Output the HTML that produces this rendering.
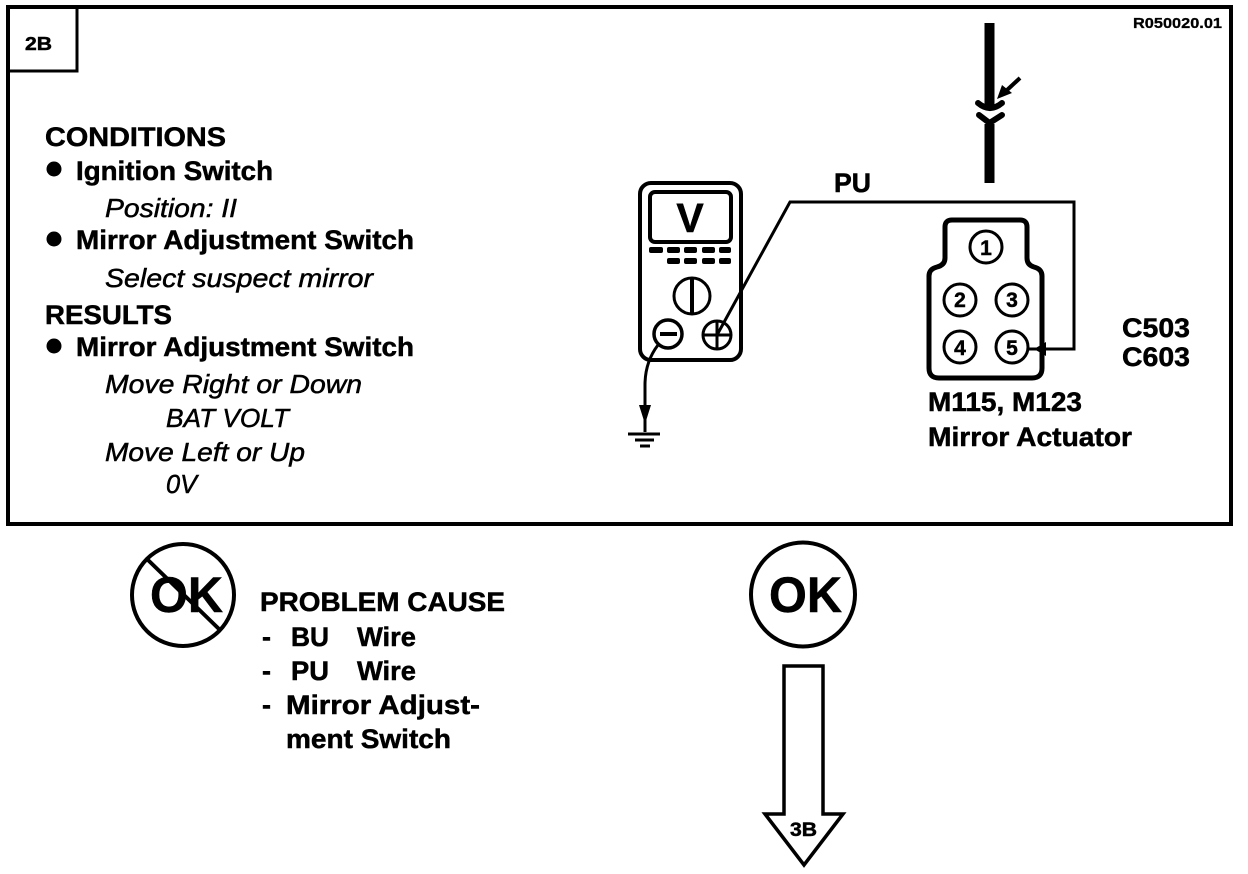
<!DOCTYPE html>
<html><head><meta charset="utf-8"><style>
html,body{margin:0;padding:0;background:#fff}
svg{display:block}
text{font-family:"Liberation Sans",sans-serif;fill:#000;stroke:#000}
.b{font-weight:bold;font-size:27px;stroke-width:.5px}
.i{font-style:italic;font-size:26px;stroke-width:.5px}
</style></head><body>
<svg width="1248" height="874" viewBox="0 0 1248 874" xmlns="http://www.w3.org/2000/svg">
<rect width="1248" height="874" fill="#fff"/>
<g fill="none" stroke="#000">
<rect x="8" y="7" width="1223" height="517" stroke-width="4"/>
<path d="M8 71H77V7" stroke-width="3"/>
<!-- top wire and connector -->
<path d="M989.5 23V108" stroke-width="10"/>
<path d="M989.5 124V183" stroke-width="10"/>
<path d="M978 103Q990 113 1002 103" stroke-width="6" stroke-linecap="round"/>
<path d="M979 115L989.5 123L1002 115" stroke-width="6" stroke-linecap="round"/>
<path d="M1020 78L1006 91" stroke-width="4"/>
<!-- connector body -->
<path d="M952 220H1020Q1027 220 1027 227V258Q1027 265 1034 267Q1042 269 1042 276V368Q1042 378 1032 378H939Q929 378 929 368V276Q929 269 937 267Q945 265 945 258V227Q945 220 952 220Z" stroke-width="5"/>
<g stroke-width="3">
<circle cx="986" cy="247" r="16"/><circle cx="960" cy="300" r="16"/><circle cx="1012" cy="300" r="16"/><circle cx="960" cy="347" r="16"/><circle cx="1012" cy="347" r="16"/>
</g>
<!-- PU wire -->
<path d="M717 335L790 202H1074V349H1028" stroke-width="3"/>
<!-- meter -->
<rect x="640" y="183" width="101" height="177" rx="11" stroke-width="4"/>
<rect x="650" y="192" width="81" height="50" rx="5" stroke-width="4"/>
<circle cx="692" cy="296" r="18" stroke-width="3"/>
<path d="M692 279V313" stroke-width="4"/>
<circle cx="668" cy="334" r="14" stroke-width="3.5"/>
<path d="M660 334H677" stroke-width="4"/>
<circle cx="717" cy="335" r="14" stroke-width="3"/>
<path d="M703 335H731M717 321V349" stroke-width="3"/>
<path d="M658 345Q645 362 645 385V432" stroke-width="3"/>
<path d="M628 434H660" stroke-width="3"/>
<path d="M635 440H654" stroke-width="3"/>
<path d="M640 446H650" stroke-width="3"/>
<!-- circles -->
<circle cx="183" cy="595" r="51" stroke-width="4"/>
<path d="M148 560L220 630" stroke-width="4"/>
<circle cx="803" cy="594.5" r="52" stroke-width="4"/>
<!-- arrow -->
<path d="M784 666H823V814H843L804 865L765 814H784Z" stroke-width="3.5"/>
</g>
<g fill="#000">
<path d="M997 99L1002 85L1012 93Z"/>
<path d="M1034 349L1046 342V356Z"/>
<path d="M639 405H651L645 424Z"/>
<circle cx="54" cy="169" r="7.5"/><circle cx="54" cy="239" r="7.5"/><circle cx="54" cy="346" r="7.5"/>
<rect x="649" y="247" width="14" height="6" rx="2"/><rect x="667" y="247" width="13" height="6" rx="2"/><rect x="684" y="247" width="13" height="6" rx="2"/><rect x="702" y="247" width="13" height="6" rx="2"/><rect x="719" y="247" width="12" height="6" rx="2"/>
<rect x="667" y="258" width="13" height="6" rx="2"/><rect x="684" y="258" width="13" height="6" rx="2"/><rect x="702" y="258" width="13" height="6" rx="2"/><rect x="719" y="258" width="12" height="6" rx="2"/>
</g>
<text x="25" y="50" class="b" style="font-size:18px" textLength="27" lengthAdjust="spacingAndGlyphs">2B</text>
<text x="1133" y="28" class="b" style="font-size:15px;stroke-width:.3px" textLength="89" lengthAdjust="spacingAndGlyphs">R050020.01</text>
<text x="45" y="146" class="b" textLength="181" lengthAdjust="spacingAndGlyphs">CONDITIONS</text>
<text x="76" y="180" class="b" textLength="197" lengthAdjust="spacingAndGlyphs">Ignition Switch</text>
<text x="105" y="217" class="i" textLength="132" lengthAdjust="spacingAndGlyphs">Position: II</text>
<text x="76" y="249" class="b" textLength="338" lengthAdjust="spacingAndGlyphs">Mirror Adjustment Switch</text>
<text x="105" y="287" class="i" textLength="268" lengthAdjust="spacingAndGlyphs">Select suspect mirror</text>
<text x="45" y="324" class="b" textLength="127" lengthAdjust="spacingAndGlyphs">RESULTS</text>
<text x="76" y="356" class="b" textLength="338" lengthAdjust="spacingAndGlyphs">Mirror Adjustment Switch</text>
<text x="105" y="393" class="i" textLength="257" lengthAdjust="spacingAndGlyphs">Move Right or Down</text>
<text x="166" y="427" class="i" textLength="123" lengthAdjust="spacingAndGlyphs">BAT VOLT</text>
<text x="105" y="461" class="i" textLength="200" lengthAdjust="spacingAndGlyphs">Move Left or Up</text>
<text x="166" y="493" class="i" textLength="31" lengthAdjust="spacingAndGlyphs">0V</text>
<text x="690" y="232" text-anchor="middle" class="b" style="font-size:41px">V</text>
<text x="834" y="192" class="b" textLength="37" lengthAdjust="spacingAndGlyphs">PU</text>
<text x="1122" y="337" class="b" textLength="68" lengthAdjust="spacingAndGlyphs">C503</text>
<text x="1122" y="366" class="b" textLength="68" lengthAdjust="spacingAndGlyphs">C603</text>
<text x="928" y="411" class="b" textLength="154" lengthAdjust="spacingAndGlyphs">M115, M123</text>
<text x="928" y="446" class="b" textLength="204" lengthAdjust="spacingAndGlyphs">Mirror Actuator</text>
<text x="986" y="255" text-anchor="middle" class="b" style="font-size:21px">1</text>
<text x="960" y="307" text-anchor="middle" class="b" style="font-size:21px">2</text>
<text x="1012" y="307" text-anchor="middle" class="b" style="font-size:21px">3</text>
<text x="960" y="355" text-anchor="middle" class="b" style="font-size:21px">4</text>
<text x="1012" y="355" text-anchor="middle" class="b" style="font-size:21px">5</text>
<text x="150" y="612" class="b" style="font-size:50px" textLength="73" lengthAdjust="spacingAndGlyphs">OK</text>
<text x="769" y="612" class="b" style="font-size:50px" textLength="73" lengthAdjust="spacingAndGlyphs">OK</text>
<text x="260" y="611" class="b" textLength="245" lengthAdjust="spacingAndGlyphs">PROBLEM CAUSE</text>
<text x="262" y="646" class="b">-</text>
<text x="291" y="646" class="b" textLength="38" lengthAdjust="spacingAndGlyphs">BU</text>
<text x="357" y="646" class="b" textLength="59" lengthAdjust="spacingAndGlyphs">Wire</text>
<text x="262" y="680" class="b">-</text>
<text x="291" y="680" class="b" textLength="38" lengthAdjust="spacingAndGlyphs">PU</text>
<text x="357" y="680" class="b" textLength="59" lengthAdjust="spacingAndGlyphs">Wire</text>
<text x="262" y="714" class="b">-</text>
<text x="286" y="714" class="b" textLength="194" lengthAdjust="spacingAndGlyphs">Mirror Adjust-</text>
<text x="286" y="748" class="b" textLength="165" lengthAdjust="spacingAndGlyphs">ment Switch</text>
<text x="790" y="836" class="b" style="font-size:19px" textLength="27" lengthAdjust="spacingAndGlyphs">3B</text>
</svg>
</body></html>
